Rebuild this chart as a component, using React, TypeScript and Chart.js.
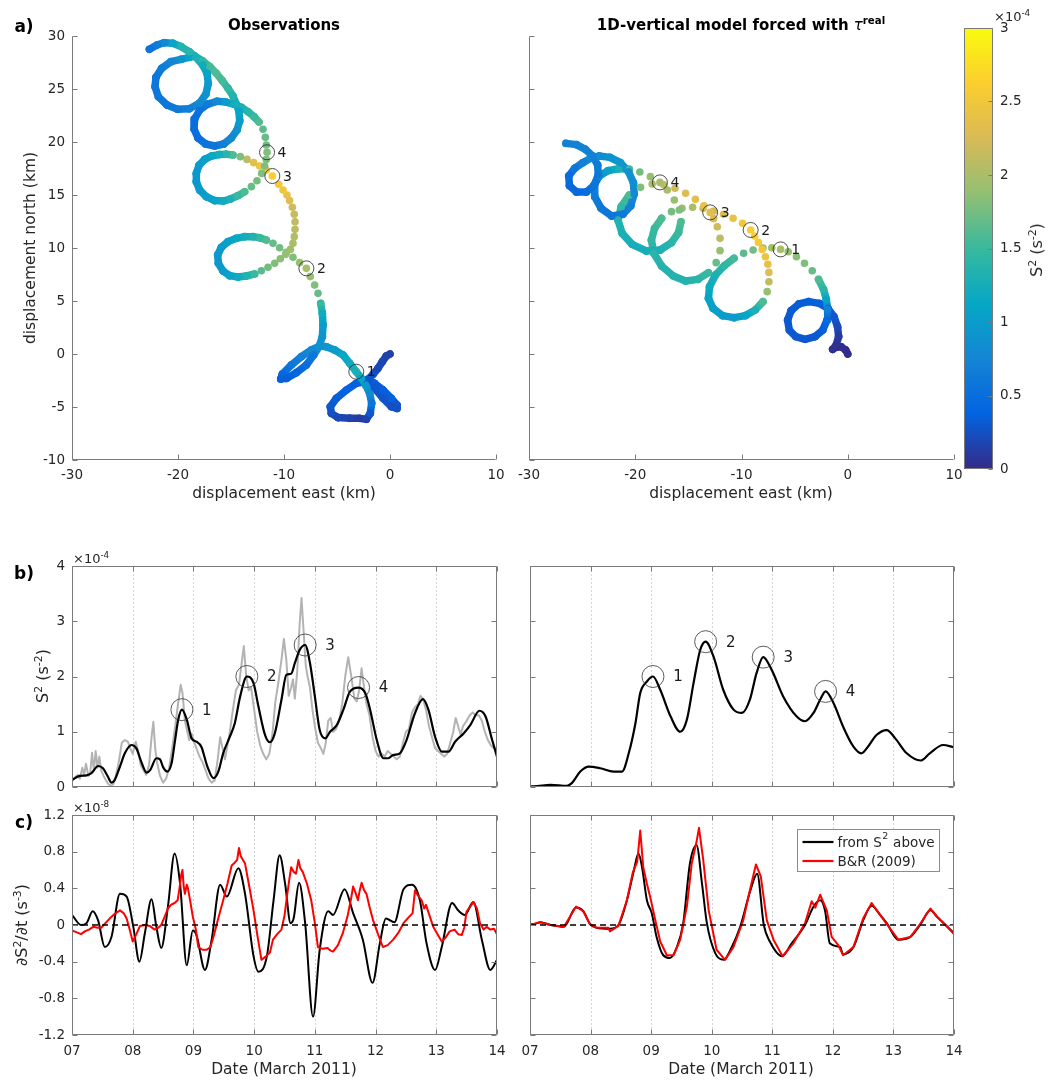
import React, { useEffect, useRef } from "react";
import { Chart, registerables } from "chart.js";

Chart.register(...registerables);

const FONT = "'DejaVu Sans', 'Liberation Sans', sans-serif";
Chart.defaults.font.family = FONT;
Chart.defaults.font.size = 13.5;
Chart.defaults.color = "#262626";

// ---------------- DATA ----------------
// a) Observations trajectory (km) and S^2 (x1e-4 s^-2)
const obsX = [0.0, -0.35, -0.72, -1.13, -1.6, -2.08, -1.45, -0.66, 0.13, 0.66, 0.66, 0.13, -0.66, -1.45, -2.23, -3.18, -4.12, -5.06, -5.63, -5.53, -4.91, -3.8, -2.86, -2.23, -1.86, -1.73, -1.92, -2.3, -2.7, -3.18, -3.8, -4.43, -5.22, -6.0, -6.64, -7.42, -8.36, -9.31, -10.16, -10.31, -9.78, -8.84, -7.89, -7.2, -6.7, -6.38, -6.32, -6.38, -6.54, -6.79, -7.11, -7.52, -7.89, -8.52, -9.15, -9.78, -10.41, -11.04, -11.67, -12.3, -12.92, -13.71, -14.5, -15.28, -15.91, -16.26, -16.19, -15.75, -15.13, -14.34, -13.55, -12.77, -12.14, -11.51, -10.88, -10.35, -9.84, -9.4, -9.15, -9.03, -8.96, -8.96, -9.03, -9.21, -9.47, -9.72, -10.09, -10.5, -11.1, -11.67, -12.3, -12.86, -13.49, -14.12, -14.81, -15.44, -16.13, -16.82, -17.48, -18.02, -18.27, -18.27, -17.96, -17.33, -16.54, -15.75, -15.06, -14.34, -13.71, -13.08, -12.55, -12.11, -11.82, -11.67, -11.6, -11.67, -11.76, -11.98, -12.36, -12.83, -13.4, -14.02, -14.75, -15.5, -16.32, -17.17, -17.96, -18.43, -18.49, -18.11, -17.39, -16.54, -15.69, -14.97, -14.43, -14.18, -14.25, -14.5, -14.81, -15.28, -15.82, -16.38, -17.0, -17.7, -18.43, -18.93, -19.72, -20.66, -21.54, -22.08, -22.17, -21.86, -21.04, -20.03, -18.93, -17.99, -17.36, -17.14, -17.26, -17.67, -18.3, -18.93, -19.72, -20.5, -21.29, -21.98, -22.7];
const obsY = [0.0, -0.19, -0.72, -1.35, -1.92, -2.39, -2.77, -3.4, -4.18, -4.81, -5.13, -4.97, -4.18, -3.24, -2.61, -2.77, -3.4, -4.18, -4.97, -5.6, -6.0, -6.07, -6.07, -6.16, -5.6, -4.65, -3.71, -2.92, -2.3, -1.67, -0.88, -0.09, 0.38, 0.69, 0.75, 0.38, -0.25, -1.04, -1.89, -2.36, -2.3, -1.76, -1.04, -0.09, 0.69, 1.64, 2.74, 3.84, 4.78, 5.72, 6.51, 7.3, 8.08, 8.62, 9.12, 9.59, 10.03, 10.44, 10.75, 10.97, 11.07, 11.07, 10.91, 10.6, 10.06, 9.34, 8.55, 7.83, 7.39, 7.26, 7.36, 7.55, 7.86, 8.18, 8.55, 8.99, 9.4, 9.87, 10.44, 11.07, 11.76, 12.48, 13.18, 13.84, 14.47, 15.0, 15.47, 16.01, 16.79, 17.36, 17.74, 18.05, 18.36, 18.62, 18.77, 18.84, 18.81, 18.68, 18.36, 17.8, 17.04, 16.26, 15.47, 14.84, 14.47, 14.43, 14.62, 14.94, 15.31, 15.79, 16.35, 17.04, 17.74, 18.36, 19.03, 19.72, 20.44, 21.2, 21.89, 22.39, 22.86, 23.27, 23.58, 23.77, 23.84, 23.58, 23.02, 22.17, 21.23, 20.38, 19.81, 19.62, 19.81, 20.38, 21.13, 22.01, 22.89, 23.58, 24.34, 25.06, 25.79, 26.48, 27.11, 27.67, 28.11, 27.99, 27.8, 27.58, 26.95, 26.1, 25.22, 24.28, 23.49, 23.08, 23.14, 23.65, 24.53, 25.53, 26.48, 27.26, 27.99, 28.52, 29.0, 29.31, 29.37, 29.15, 28.74];
const obsS = [0.15, 0.15, 0.18, 0.2, 0.25, 0.3, 0.32, 0.35, 0.35, 0.3, 0.25, 0.25, 0.28, 0.3, 0.3, 0.35, 0.38, 0.35, 0.3, 0.25, 0.2, 0.15, 0.12, 0.15, 0.3, 0.6, 0.8, 0.95, 1.1, 1.3, 1.2, 1.1, 1.0, 0.95, 0.9, 0.8, 0.7, 0.6, 0.45, 0.35, 0.35, 0.4, 0.5, 0.6, 0.9, 0.9, 1.0, 1.2, 1.5, 1.7, 1.8, 1.9, 2.0, 1.9, 1.8, 1.8, 1.75, 1.7, 1.6, 1.5, 1.35, 1.25, 1.15, 1.05, 1.0, 0.95, 0.95, 1.0, 1.1, 1.2, 1.35, 1.5, 1.65, 1.75, 1.8, 1.85, 1.9, 1.95, 2.0, 2.05, 2.1, 2.1, 2.15, 2.2, 2.3, 2.4, 2.5, 2.55, 2.6, 2.55, 2.45, 2.35, 2.1, 1.8, 1.6, 1.4, 1.25, 1.15, 1.05, 1.0, 0.95, 0.95, 1.0, 1.05, 1.1, 1.2, 1.3, 1.5, 1.6, 1.7, 1.75, 1.8, 1.8, 1.8, 1.8, 1.75, 1.7, 1.65, 1.6, 1.5, 1.4, 1.3, 1.2, 1.0, 0.8, 0.65, 0.55, 0.5, 0.5, 0.5, 0.55, 0.6, 0.7, 0.8, 0.9, 1.0, 1.1, 1.25, 1.35, 1.45, 1.55, 1.6, 1.55, 1.45, 1.3, 1.1, 0.9, 0.75, 0.65, 0.6, 0.6, 0.6, 0.6, 0.62, 0.7, 0.8, 0.9, 1.0, 1.1, 1.2, 1.3, 1.4, 1.35, 1.1, 0.8, 0.65, 0.55];
const obsPeakX = [-3.18, -7.89, -11.1, -11.6];
const obsPeakY = [-1.67, 8.08, 16.79, 19.03];

// a) 1D-vertical model trajectory
const modX = [0, -0.2, -0.63, -1.09, -1.42, -1.09, -0.86, -0.96, -1.29, -1.85, -2.68, -3.68, -4.6, -5.33, -5.66, -5.5, -4.9, -4.01, -3.08, -2.35, -1.95, -1.89, -2.02, -2.28, -2.75, -3.34, -4.07, -4.83, -5.6, -6.32, -7.15, -7.98, -8.91, -9.8, -10.7, -11.62, -12.45, -13.01, -13.11, -12.68, -11.79, -10.7, -9.64, -8.71, -7.98, -7.58, -7.42, -7.42, -7.52, -7.75, -8.05, -8.41, -8.77, -9.14, -9.9, -10.79, -11.69, -12.62, -13.61, -14.6, -15.6, -16.59, -17.52, -18.18, -18.48, -18.25, -17.52, -16.42, -15.26, -14.11, -13.11, -12.38, -12.02, -12.02, -12.28, -12.62, -12.95, -13.54, -14.34, -15.26, -16.26, -17.32, -18.41, -19.5, -20.56, -21.32, -21.62, -21.23, -20.3, -18.97, -17.65, -16.59, -15.93, -15.7, -15.86, -16.32, -16.99, -17.68, -18.58, -19.57, -20.56, -21.56, -22.55, -23.38, -23.87, -23.81, -23.21, -22.22, -21.16, -20.43, -20.1, -20.17, -20.63, -21.39, -22.38, -23.38, -24.21, -24.93, -25.7, -26.26, -26.19, -25.53, -24.6, -23.87, -23.48, -23.54, -24.01, -24.7, -25.53, -26.52];
const modY = [0, 0.38, 0.69, 0.63, 0.44, 0.85, 1.64, 2.58, 3.52, 4.28, 4.78, 4.94, 4.72, 4.09, 3.21, 2.26, 1.64, 1.38, 1.64, 2.26, 3.21, 4.21, 5.16, 6.1, 7.04, 7.86, 8.55, 9.18, 9.65, 9.87, 10.03, 10.0, 9.81, 9.5, 9.03, 8.33, 7.45, 6.35, 5.25, 4.31, 3.62, 3.43, 3.62, 4.15, 4.94, 5.88, 6.82, 7.7, 8.46, 9.18, 9.87, 10.53, 11.13, 11.7, 12.33, 12.8, 13.18, 13.49, 13.74, 13.84, 13.74, 13.43, 12.8, 11.86, 10.75, 9.5, 8.3, 7.36, 6.89, 7.04, 7.67, 8.62, 9.75, 10.91, 12.01, 12.77, 13.36, 13.99, 14.59, 15.16, 15.63, 15.97, 16.04, 15.72, 15.0, 13.9, 12.64, 11.38, 10.35, 9.72, 9.81, 10.5, 11.45, 12.48, 13.58, 14.53, 15.47, 16.19, 16.73, 17.17, 17.42, 17.48, 17.3, 16.79, 15.94, 14.84, 13.74, 13.02, 13.18, 13.96, 15.09, 16.16, 17.2, 18.05, 18.55, 18.68, 18.46, 18.05, 17.52, 16.79, 15.88, 15.28, 15.28, 15.91, 16.89, 17.83, 18.68, 19.31, 19.75, 19.87];
const modS = [0.02, 0.02, 0.03, 0.03, 0.04, 0.05, 0.1, 0.2, 0.3, 0.35, 0.35, 0.35, 0.33, 0.32, 0.3, 0.3, 0.3, 0.3, 0.3, 0.35, 0.45, 0.7, 1.1, 1.4, 1.6, 1.7, 1.8, 1.85, 1.9, 2.0, 1.95, 1.85, 1.75, 1.65, 1.55, 1.45, 1.3, 1.2, 1.1, 1.05, 1.0, 1.0, 1.1, 1.3, 1.6, 1.9, 2.1, 2.3, 2.4, 2.45, 2.5, 2.55, 2.6, 2.6, 2.5, 2.4, 2.3, 2.2, 2.1, 2.0, 1.9, 1.75, 1.6, 1.5, 1.45, 1.4, 1.35, 1.35, 1.35, 1.4, 1.5, 1.7, 1.9, 2.1, 2.2, 2.3, 2.35, 2.4, 2.35, 2.3, 2.2, 2.1, 2.0, 1.8, 1.6, 1.45, 1.35, 1.3, 1.25, 1.25, 1.3, 1.4, 1.5, 1.6, 1.8, 1.9, 2.0, 2.0, 1.9, 1.75, 1.55, 1.3, 1.05, 0.9, 0.75, 0.65, 0.6, 0.6, 0.62, 0.7, 0.8, 0.85, 0.9, 0.95, 0.9, 0.85, 0.8, 0.7, 0.6, 0.5, 0.45, 0.45, 0.5, 0.55, 0.6, 0.65, 0.7, 0.72, 0.72, 0.7];
const modPeakX = [-6.32, -9.14, -12.95, -17.68];
const modPeakY = [9.87, 11.7, 13.36, 16.19];
const peakNames = ["1", "2", "3", "4"];

// tick values
const dispXTicks = [-30, -20, -10, 0, 10];
const dispYTicks = [-10, -5, 0, 5, 10, 15, 20, 25, 30];
const cbTicks = [0, 0.5, 1, 1.5, 2, 2.5, 3];
const dayTicks = [7, 8, 9, 10, 11, 12, 13, 14];
const s2Ticks = [0, 1, 2, 3, 4];
const dsTicks = [-1.2, -0.8, -0.4, 0, 0.4, 0.8, 1.2];

// b) S^2 time series (x1e-4 s^-2), day of March 2011
const obsSmoothDay = [7.0, 7.13, 7.24, 7.32, 7.43, 7.51, 7.59, 7.65, 7.7, 7.79, 7.87, 7.98, 8.06, 8.14, 8.23, 8.29, 8.39, 8.45, 8.5, 8.57, 8.64, 8.69, 8.75, 8.81, 8.89, 8.97, 9.05, 9.13, 9.23, 9.33, 9.41, 9.49, 9.6, 9.68, 9.77, 9.88, 9.99, 10.07, 10.18, 10.26, 10.34, 10.45, 10.53, 10.61, 10.67, 10.75, 10.84, 10.92, 11.0, 11.08, 11.17, 11.25, 11.36, 11.47, 11.58, 11.72, 11.83, 11.91, 12.02, 12.13, 12.21, 12.29, 12.4, 12.51, 12.65, 12.78, 12.87, 12.98, 13.09, 13.2, 13.31, 13.45, 13.56, 13.71, 13.81, 13.92, 14.0];
const obsSmoothS2 = [0.13, 0.2, 0.21, 0.25, 0.38, 0.34, 0.19, 0.08, 0.12, 0.37, 0.61, 0.76, 0.7, 0.46, 0.26, 0.31, 0.52, 0.5, 0.36, 0.28, 0.43, 0.79, 1.22, 1.4, 1.22, 0.88, 0.82, 0.73, 0.37, 0.16, 0.28, 0.61, 0.91, 1.15, 1.64, 2.0, 1.88, 1.46, 0.94, 0.81, 0.97, 1.58, 2.03, 2.05, 2.24, 2.48, 2.57, 2.24, 1.64, 1.03, 0.88, 1.0, 1.12, 1.4, 1.73, 1.8, 1.7, 1.4, 0.85, 0.52, 0.52, 0.58, 0.61, 0.85, 1.34, 1.59, 1.4, 0.91, 0.64, 0.64, 0.82, 0.97, 1.12, 1.38, 1.28, 0.85, 0.55];
const obsRawDay = [7.0, 7.05, 7.1, 7.13, 7.17, 7.2, 7.23, 7.27, 7.3, 7.33, 7.36, 7.39, 7.42, 7.45, 7.48, 7.52, 7.56, 7.6, 7.64, 7.68, 7.72, 7.77, 7.82, 7.87, 7.92, 7.96, 8.0, 8.05, 8.09, 8.13, 8.18, 8.22, 8.27, 8.31, 8.34, 8.37, 8.4, 8.45, 8.5, 8.55, 8.6, 8.65, 8.7, 8.74, 8.79, 8.82, 8.86, 8.9, 8.93, 8.97, 9.0, 9.05, 9.1, 9.15, 9.2, 9.25, 9.3, 9.35, 9.4, 9.44, 9.48, 9.52, 9.56, 9.6, 9.65, 9.7, 9.75, 9.79, 9.83, 9.87, 9.91, 9.95, 10.0, 10.05, 10.1, 10.15, 10.2, 10.25, 10.3, 10.35, 10.4, 10.45, 10.49, 10.53, 10.57, 10.61, 10.64, 10.67, 10.71, 10.75, 10.78, 10.81, 10.85, 10.88, 10.92, 10.96, 11.0, 11.05, 11.1, 11.14, 11.18, 11.22, 11.26, 11.3, 11.35, 11.4, 11.45, 11.5, 11.55, 11.6, 11.65, 11.69, 11.73, 11.77, 11.81, 11.85, 11.9, 11.95, 12.0, 12.05, 12.1, 12.15, 12.2, 12.25, 12.3, 12.35, 12.4, 12.45, 12.5, 12.55, 12.6, 12.65, 12.7, 12.74, 12.78, 12.83, 12.88, 12.93, 12.98, 13.03, 13.08, 13.13, 13.18, 13.23, 13.28, 13.32, 13.36, 13.4, 13.44, 13.5, 13.55, 13.6, 13.65, 13.7, 13.75, 13.8, 13.85, 13.9, 13.95, 14.0];
const obsRawS2 = [0.1, 0.18, 0.22, 0.15, 0.35, 0.22, 0.42, 0.2, 0.25, 0.62, 0.3, 0.65, 0.35, 0.55, 0.3, 0.2, 0.12, 0.05, 0.02, 0.05, 0.2, 0.45, 0.8, 0.85, 0.82, 0.7, 0.6, 0.82, 0.65, 0.4, 0.3, 0.22, 0.4, 0.9, 1.18, 0.7, 0.45, 0.2, 0.08, 0.15, 0.35, 0.7, 1.1, 1.45, 1.85, 1.7, 1.2, 1.0, 0.85, 0.97, 0.85, 0.7, 0.55, 0.45, 0.3, 0.15, 0.08, 0.12, 0.5, 0.9, 0.7, 0.5, 0.75, 1.0, 1.4, 1.75, 1.85, 2.2, 2.55, 2.0, 1.75, 1.8, 1.4, 1.0, 0.75, 0.6, 0.5, 0.6, 0.95, 1.55, 1.9, 2.3, 2.68, 2.3, 1.65, 1.8, 1.95, 1.6, 2.1, 2.95, 3.42, 2.9, 2.2, 2.0, 1.8, 1.4, 1.1, 0.8, 0.7, 0.6, 0.8, 1.2, 1.25, 1.0, 1.05, 1.2, 1.5, 2.0, 2.35, 2.0, 1.6, 1.55, 1.75, 2.15, 1.8, 1.5, 1.3, 0.9, 0.65, 0.55, 0.6, 0.55, 0.65, 0.6, 0.55, 0.5, 0.55, 0.8, 1.0, 1.05, 1.35, 1.45, 1.5, 1.65, 1.6, 1.4, 1.1, 0.9, 0.7, 0.65, 0.6, 0.55, 0.6, 0.8, 1.0, 1.25, 1.1, 0.95, 1.1, 1.2, 1.3, 1.35, 1.3, 1.3, 1.2, 1.0, 0.85, 0.75, 0.7, 0.7];
const obsPeakDay = [8.81, 9.88, 10.84, 11.72];
const obsPeakS2 = [1.4, 2.0, 2.57, 1.8];

const modSmoothDay = [7.0, 7.06, 7.34, 7.61, 7.69, 7.83, 7.97, 8.16, 8.38, 8.52, 8.63, 8.74, 8.82, 8.93, 9.03, 9.15, 9.32, 9.48, 9.59, 9.7, 9.81, 9.9, 10.03, 10.19, 10.36, 10.5, 10.63, 10.74, 10.85, 10.99, 11.18, 11.4, 11.54, 11.68, 11.79, 11.88, 12.01, 12.17, 12.34, 12.47, 12.58, 12.72, 12.89, 13.03, 13.22, 13.45, 13.6, 13.82, 14.0];
const modSmoothS2 = [0.01, 0.01, 0.04, 0.02, 0.07, 0.28, 0.37, 0.34, 0.28, 0.28, 0.61, 1.15, 1.7, 1.91, 2.0, 1.76, 1.28, 1.0, 1.22, 1.88, 2.48, 2.63, 2.36, 1.76, 1.4, 1.34, 1.58, 2.06, 2.35, 2.12, 1.64, 1.28, 1.19, 1.34, 1.58, 1.73, 1.52, 1.09, 0.73, 0.61, 0.73, 0.94, 1.03, 0.88, 0.61, 0.48, 0.61, 0.76, 0.72];
const modPeakDay = [9.03, 9.9, 10.85, 11.88];
const modPeakS2 = [2.0, 2.63, 2.35, 1.73];

// c) dS^2/dt (x1e-8 s^-3)
const cObsDay = [7.0, 7.15, 7.24, 7.34, 7.43, 7.54, 7.65, 7.79, 7.9, 8.01, 8.11, 8.2, 8.31, 8.39, 8.47, 8.58, 8.69, 8.78, 8.89, 8.99, 9.05, 9.19, 9.3, 9.44, 9.55, 9.74, 9.85, 9.99, 10.07, 10.21, 10.32, 10.42, 10.51, 10.6, 10.65, 10.74, 10.84, 10.97, 11.08, 11.22, 11.3, 11.49, 11.63, 11.79, 11.95, 12.07, 12.17, 12.31, 12.46, 12.6, 12.73, 12.84, 12.98, 13.09, 13.26, 13.36, 13.47, 13.61, 13.75, 13.89, 14.0];
const cObsBlack = [0.11, 0.0, 0.02, 0.15, 0.05, -0.24, -0.13, 0.34, 0.31, -0.02, -0.4, -0.09, 0.28, -0.02, -0.25, 0.2, 0.78, 0.45, -0.44, -0.06, -0.11, -0.49, -0.16, 0.44, 0.31, 0.62, 0.34, -0.34, -0.51, -0.34, 0.27, 0.76, 0.45, 0.02, 0.07, 0.46, 0.02, -1.0, -0.27, 0.15, 0.11, 0.39, 0.13, -0.16, -0.63, -0.2, 0.07, 0.03, 0.39, 0.44, 0.27, -0.2, -0.49, -0.24, 0.24, 0.16, 0.11, 0.25, -0.16, -0.49, -0.38];
const cObsRedDay = [7.0, 7.08, 7.15, 7.21, 7.28, 7.35, 7.42, 7.48, 7.55, 7.62, 7.7, 7.79, 7.85, 7.9, 7.95, 8.0, 8.06, 8.12, 8.2, 8.28, 8.36, 8.42, 8.47, 8.52, 8.58, 8.63, 8.69, 8.74, 8.77, 8.8, 8.82, 8.84, 8.86, 8.89, 8.91, 8.95, 8.99, 9.04, 9.08, 9.15, 9.22, 9.28, 9.33, 9.4, 9.49, 9.56, 9.63, 9.68, 9.72, 9.75, 9.78, 9.85, 9.92, 9.99, 10.05, 10.12, 10.2, 10.26, 10.31, 10.38, 10.45, 10.5, 10.54, 10.58, 10.61, 10.65, 10.69, 10.73, 10.76, 10.8, 10.87, 10.94, 11.0, 11.05, 11.13, 11.21, 11.26, 11.3, 11.38, 11.46, 11.54, 11.6, 11.63, 11.67, 11.71, 11.74, 11.77, 11.81, 11.85, 11.9, 11.96, 12.04, 12.12, 12.2, 12.29, 12.38, 12.46, 12.54, 12.61, 12.65, 12.7, 12.76, 12.8, 12.83, 12.9, 12.95, 13.02, 13.09, 13.15, 13.22, 13.3, 13.36, 13.42, 13.46, 13.5, 13.56, 13.61, 13.67, 13.72, 13.78, 13.83, 13.89, 13.95, 14.0];
const cObsRed = [-0.06, -0.08, -0.1, -0.07, -0.05, -0.02, -0.03, -0.03, 0.02, 0.07, 0.12, 0.16, 0.13, 0.07, -0.05, -0.18, -0.1, -0.01, 0.0, -0.01, -0.05, -0.03, 0.0, 0.08, 0.18, 0.22, 0.24, 0.27, 0.4, 0.55, 0.6, 0.42, 0.34, 0.44, 0.4, 0.25, 0.09, -0.05, -0.24, -0.27, -0.27, -0.24, -0.13, 0.05, 0.27, 0.45, 0.65, 0.68, 0.71, 0.84, 0.75, 0.67, 0.42, 0.16, -0.1, -0.38, -0.34, -0.3, -0.16, -0.1, -0.05, 0.1, 0.31, 0.5, 0.63, 0.58, 0.56, 0.71, 0.62, 0.58, 0.45, 0.27, 0.02, -0.24, -0.26, -0.25, -0.28, -0.29, -0.22, -0.09, 0.1, 0.3, 0.42, 0.35, 0.27, 0.38, 0.46, 0.38, 0.34, 0.2, 0.05, -0.1, -0.24, -0.22, -0.16, -0.08, 0.02, 0.08, 0.13, 0.38, 0.32, 0.27, 0.18, 0.22, 0.08, -0.02, -0.1, -0.18, -0.14, -0.07, -0.05, -0.1, -0.11, -0.03, 0.15, 0.2, 0.25, 0.18, 0.02, -0.05, -0.02, -0.05, -0.04, -0.1];

const cModDay = [7.0, 7.06, 7.17, 7.34, 7.56, 7.76, 7.88, 7.99, 8.1, 8.32, 8.46, 8.6, 8.71, 8.79, 8.85, 8.93, 9.01, 9.09, 9.2, 9.31, 9.42, 9.53, 9.64, 9.75, 9.84, 9.92, 10.06, 10.2, 10.31, 10.47, 10.64, 10.75, 10.86, 10.96, 11.16, 11.32, 11.54, 11.68, 11.79, 11.87, 11.95, 12.12, 12.17, 12.34, 12.5, 12.64, 12.78, 12.89, 13.08, 13.28, 13.44, 13.61, 13.72, 13.86, 14.0];
const cModBlack = [0.01, 0.01, 0.03, 0.0, -0.02, 0.19, 0.15, 0.01, -0.03, -0.04, 0.0, 0.27, 0.58, 0.78, 0.63, 0.27, 0.13, -0.13, -0.33, -0.36, -0.25, 0.02, 0.67, 0.87, 0.45, 0.02, -0.31, -0.38, -0.27, -0.02, 0.38, 0.56, 0.0, -0.18, -0.34, -0.2, 0.0, 0.2, 0.27, 0.16, -0.2, -0.24, -0.32, -0.24, 0.05, 0.21, 0.11, 0.02, -0.16, -0.13, 0.0, 0.16, 0.09, 0.0, -0.09];
const cModRedDay = [7.0, 7.06, 7.17, 7.34, 7.56, 7.76, 7.88, 7.99, 8.1, 8.29, 8.32, 8.46, 8.6, 8.7, 8.77, 8.82, 8.87, 8.93, 8.99, 9.07, 9.15, 9.26, 9.37, 9.48, 9.59, 9.67, 9.75, 9.79, 9.86, 9.95, 10.08, 10.22, 10.36, 10.52, 10.63, 10.73, 10.81, 10.91, 11.02, 11.17, 11.35, 11.54, 11.65, 11.71, 11.79, 11.9, 11.98, 12.09, 12.17, 12.34, 12.5, 12.64, 12.78, 12.89, 13.08, 13.28, 13.44, 13.61, 13.72, 13.86, 14.0];
const cModRed = [0.01, 0.01, 0.03, 0.0, -0.02, 0.2, 0.15, 0.01, -0.03, -0.03, -0.07, -0.01, 0.27, 0.58, 0.69, 1.03, 0.63, 0.45, 0.29, 0.05, -0.18, -0.33, -0.33, -0.16, 0.2, 0.67, 0.91, 1.06, 0.71, 0.16, -0.27, -0.38, -0.24, 0.05, 0.38, 0.66, 0.53, 0.05, -0.16, -0.34, -0.2, 0.02, 0.26, 0.19, 0.33, 0.16, -0.13, -0.22, -0.33, -0.24, 0.07, 0.24, 0.11, 0.01, -0.16, -0.13, 0.01, 0.18, 0.09, 0.0, -0.1];
const zeroDay = [7, 14];
const zeroVal = [0, 0];

// ---------------- HELPERS ----------------
const PARULA = ["#352a87", "#0363e1", "#1485d4", "#06a7c6", "#38b99e", "#92bf73", "#d9ba56", "#fcce2e", "#f9fb0e"];
const hexRgb = (h: string) => [parseInt(h.slice(1, 3), 16), parseInt(h.slice(3, 5), 16), parseInt(h.slice(5, 7), 16)];
function parula(t: number) {
  const u = Math.max(0, Math.min(1, t));
  const f = u * (PARULA.length - 1);
  const i = Math.min(Math.floor(f), PARULA.length - 2);
  const w = f - i;
  const a = hexRgb(PARULA[i]);
  const b = hexRgb(PARULA[i + 1]);
  const c = a.map((v, k) => Math.round(v + (b[k] - v) * w));
  return `rgb(${c[0]},${c[1]},${c[2]})`;
}
const CB_MAX = 3;
const xy = (xs: number[], ys: number[]) => xs.map((x, i) => ({ x, y: ys[i] }));
const fmt1 = (v: any) => String(Math.round(Number(v) * 10) / 10);
const fmtDay = (v: any) => String(Math.round(Number(v))).padStart(2, "0");

const AXIS_COLOR = "#7a7a7a";

const matlabAxes: any = {
  id: "matlabAxes",
  beforeDatasetsDraw(chart: any, _a: any, o: any) {
    if (!o || !o.grid) return;
    const { ctx, chartArea: a } = chart;
    const xs = chart.scales.x;
    ctx.save();
    ctx.strokeStyle = "#d6d6d6";
    ctx.lineWidth = 1;
    ctx.setLineDash([2, 2]);
    for (const t of xs.ticks) {
      const px = Math.round(xs.getPixelForValue(t.value)) + 0.5;
      if (px < a.left + 2 || px > a.right - 2) continue;
      ctx.beginPath();
      ctx.moveTo(px, a.top);
      ctx.lineTo(px, a.bottom);
      ctx.stroke();
    }
    ctx.restore();
  },
  afterDraw(chart: any, _a: any, o: any) {
    if (!o || !o.on) return;
    const { ctx, chartArea: a } = chart;
    const L = Math.round(a.left) + 0.5, R = Math.round(a.right) - 0.5;
    const T = Math.round(a.top) + 0.5, B = Math.round(a.bottom) - 0.5;
    const len = o.len || 5;
    ctx.save();
    ctx.strokeStyle = AXIS_COLOR;
    ctx.lineWidth = 1;
    ctx.setLineDash([]);
    ctx.beginPath();
    if (o.box) {
      ctx.rect(L, T, R - L, B - T);
    } else {
      ctx.moveTo(L, T);
      ctx.lineTo(L, B);
      ctx.lineTo(R, B);
    }
    const xs = chart.scales.x, ys = chart.scales.y;
    if (o.xTicks && xs) {
      for (const t of xs.ticks) {
        const px = Math.round(xs.getPixelForValue(t.value)) + 0.5;
        ctx.moveTo(px, B);
        ctx.lineTo(px, B - len);
        if (o.box) {
          ctx.moveTo(px, T);
          ctx.lineTo(px, T + len);
        }
      }
    }
    if (o.yTicks && ys) {
      for (const t of ys.ticks) {
        const py = Math.round(ys.getPixelForValue(t.value)) + 0.5;
        if (o.yLeft !== false) {
          ctx.moveTo(L, py);
          ctx.lineTo(L + len, py);
        }
        if (o.box && o.yRight !== false) {
          ctx.moveTo(R, py);
          ctx.lineTo(R - len, py);
        }
      }
    }
    ctx.stroke();
    ctx.restore();
  },
};

const peakLabelPlugin: any = {
  id: "peakLabelPlugin",
  afterDatasetsDraw(chart: any) {
    const { ctx } = chart;
    chart.data.datasets.forEach((ds: any, i: number) => {
      if (!ds.peakLabels) return;
      const meta = chart.getDatasetMeta(i);
      ctx.save();
      ctx.font = `${ds.labelSize || 14}px ${FONT}`;
      ctx.fillStyle = "#1a1a1a";
      ctx.textAlign = "center";
      ctx.textBaseline = "middle";
      meta.data.forEach((el: any, j: number) => {
        ctx.fillText(ds.peakLabels[j], el.x + ds.labelOffset, el.y + 1);
      });
      ctx.restore();
    });
  },
};

const boxLegend: any = {
  id: "boxLegend",
  afterDraw(chart: any, _a: any, o: any) {
    if (!o || !o.items) return;
    const { ctx, chartArea: a } = chart;
    const x0 = Math.round(a.right - o.right - o.w) + 0.5;
    const y0 = Math.round(a.top + o.top) + 0.5;
    ctx.save();
    ctx.fillStyle = "#ffffff";
    ctx.fillRect(x0, y0, o.w, o.h);
    ctx.strokeStyle = "#8c8c8c";
    ctx.lineWidth = 1;
    ctx.strokeRect(x0, y0, o.w, o.h);
    o.items.forEach((it: any, k: number) => {
      const yy = y0 + o.rows[k];
      ctx.strokeStyle = it.color;
      ctx.lineWidth = 2.2;
      ctx.beginPath();
      ctx.moveTo(x0 + 5, yy);
      ctx.lineTo(x0 + 36, yy);
      ctx.stroke();
      ctx.fillStyle = "#262626";
      ctx.textBaseline = "middle";
      ctx.textAlign = "left";
      const parts = String(it.text).split("²");
      let x = x0 + 40;
      parts.forEach((p: string, pi: number) => {
        ctx.font = `13.5px ${FONT}`;
        ctx.fillText(p, x, yy + 1);
        x += ctx.measureText(p).width;
        if (pi < parts.length - 1) {
          ctx.font = `9.5px ${FONT}`;
          ctx.fillText("2", x + 0.5, yy - 5);
          x += ctx.measureText("2").width + 1;
        }
      });
    });
    ctx.restore();
  },
};

function linScale(min: number, max: number, ticks: number[], opts: any) {
  return {
    type: "linear",
    position: opts.position,
    min,
    max,
    afterBuildTicks: (s: any) => {
      s.ticks = ticks.map((v) => ({ value: v }));
    },
    afterFit: (s: any) => {
      if (opts.horizontal) s.height = opts.size;
      else s.width = opts.size;
    },
    grid: { display: false, drawTicks: false },
    border: { display: false },
    ticks: {
      display: opts.show,
      padding: opts.pad,
      autoSkip: false,
      maxRotation: 0,
      color: "#262626",
      font: { size: 13.5, family: FONT },
      callback: opts.fmt,
    },
  };
}

function baseOptions(layoutPad: any, scales: any, plugins: any) {
  return {
    responsive: false,
    maintainAspectRatio: false,
    animation: false,
    devicePixelRatio: 1,
    events: [],
    layout: { padding: layoutPad },
    scales,
    plugins: { legend: { display: false }, tooltip: { enabled: false }, ...plugins },
  };
}

function trajConfig(pad: any, X: number[], Y: number[], S: number[], pkX: number[], pkY: number[], showY: boolean) {
  const pts = xy(X, Y);
  return {
    type: "scatter",
    data: {
      datasets: [
        {
          data: xy(pkX, pkY),
          pointRadius: 7.5,
          pointBackgroundColor: "rgba(0,0,0,0)",
          pointBorderColor: "#222",
          pointBorderWidth: 0.8,
          showLine: false,
          peakLabels: peakNames,
          labelOffset: 15,
          labelSize: 14,
        },
        {
          data: pts,
          pointRadius: 3.8,
          pointBackgroundColor: S.map((s) => parula(s / CB_MAX)),
          pointBorderWidth: 0,
          showLine: false,
        },
        {
          data: pts,
          pointRadius: 0,
          showLine: true,
          borderWidth: 7.5,
          borderCapStyle: "round",
          borderJoinStyle: "round",
          borderColor: "rgba(0,0,0,0)",
          segment: {
            borderColor: (c: any) => {
              const s0 = S[c.p0DataIndex], s1 = S[c.p1DataIndex];
              return s0 < 1.62 && s1 < 1.62 ? parula((s0 + s1) / 2 / CB_MAX) : "rgba(0,0,0,0)";
            },
          },
        },
      ],
    },
    options: baseOptions(
      { left: 0, right: pad.r, top: pad.t, bottom: 0 },
      {
        x: linScale(-30, 10, dispXTicks, { horizontal: true, show: true, pad: 7, size: pad.b, fmt: (v: any) => String(v), position: "bottom" }),
        y: linScale(-10, 30, dispYTicks, { horizontal: false, show: showY, pad: 7, size: pad.l, fmt: (v: any) => String(v), position: "left" }),
      },
      { matlabAxes: { on: true, box: false, xTicks: true, yTicks: true, len: 5 } }
    ),
    plugins: [matlabAxes, peakLabelPlugin],
  };
}

function s2Config(pad: any, datasets: any[], showY: boolean) {
  return {
    type: "line",
    data: { datasets },
    options: baseOptions(
      { left: 0, right: pad.r, top: pad.t, bottom: 0 },
      {
        x: linScale(7, 14, dayTicks, { horizontal: true, show: false, pad: 8, size: pad.b, fmt: fmtDay, position: "bottom" }),
        y: linScale(0, 4, s2Ticks, { horizontal: false, show: showY, pad: 7, size: pad.l, fmt: fmt1, position: "left" }),
      },
      { matlabAxes: { on: true, box: true, grid: true, xTicks: true, yTicks: true, len: 5 } }
    ),
    plugins: [matlabAxes, peakLabelPlugin],
  };
}

function dsConfig(pad: any, datasets: any[], showY: boolean, legend: any) {
  return {
    type: "line",
    data: { datasets },
    options: baseOptions(
      { left: 0, right: pad.r, top: pad.t, bottom: 0 },
      {
        x: linScale(7, 14, dayTicks, { horizontal: true, show: true, pad: 8, size: pad.b, fmt: fmtDay, position: "bottom" }),
        y: linScale(-1.2, 1.2, dsTicks, { horizontal: false, show: showY, pad: 7, size: pad.l, fmt: fmt1, position: "left" }),
      },
      { matlabAxes: { on: true, box: true, grid: true, xTicks: true, yTicks: true, len: 5 }, boxLegend: legend || {} }
    ),
    plugins: [matlabAxes, boxLegend],
  };
}

function peakDs(days: number[], vals: number[], offset: number) {
  return {
    data: xy(days, vals),
    showLine: false,
    pointRadius: 11,
    pointBackgroundColor: "rgba(0,0,0,0)",
    pointBorderColor: "#333",
    pointBorderWidth: 0.8,
    peakLabels: peakNames,
    labelOffset: offset,
    labelSize: 15,
  };
}

function lineDs(days: number[], vals: number[], color: string, width: number, smooth: boolean, label?: string) {
  return {
    label,
    data: xy(days, vals),
    borderColor: color,
    borderWidth: width,
    pointRadius: 0,
    fill: false,
    tension: 0,
    cubicInterpolationMode: smooth ? "monotone" : "default",
    borderJoinStyle: "round",
  };
}

function colorbarConfig(pad: any) {
  return {
    type: "bar",
    data: {
      labels: ["S2"],
      datasets: [
        {
          data: [CB_MAX],
          barPercentage: 1,
          categoryPercentage: 1,
          borderWidth: 0,
          inflateAmount: 0,
          backgroundColor: (c: any) => {
            const ch = c.chart;
            const a = ch.chartArea;
            if (!a) return "rgba(0,0,0,0)";
            const ys = ch.scales.y;
            const g = ch.ctx.createLinearGradient(0, ys.getPixelForValue(0), 0, ys.getPixelForValue(CB_MAX));
            PARULA.forEach((col, i) => g.addColorStop(i / (PARULA.length - 1), col));
            return g;
          },
        },
      ],
    },
    options: baseOptions(
      { left: pad.l, right: 0, top: pad.t, bottom: pad.b },
      {
        x: { type: "category", display: false, offset: true },
        y: linScale(0, CB_MAX, cbTicks, { horizontal: false, show: true, pad: 7, size: pad.r, fmt: fmt1, position: "right" }),
      },
      { matlabAxes: { on: true, box: true, xTicks: false, yTicks: true, yLeft: false, len: 4 } }
    ),
    plugins: [matlabAxes],
  };
}

function ChartPanel({ rect, pad, make }: any) {
  const ref = useRef<HTMLCanvasElement | null>(null);
  useEffect(() => {
    const chart = new Chart(ref.current as HTMLCanvasElement, make(pad) as any);
    return () => chart.destroy();
  }, []);
  const W = rect.w + pad.l + pad.r;
  const H = rect.h + pad.t + pad.b;
  return (
    <canvas
      ref={ref}
      width={W}
      height={H}
      style={{ position: "absolute", left: rect.x - pad.l, top: rect.y - pad.t, width: W, height: H }}
    />
  );
}

function Label({ x, y, ax = 0.5, ay = 0.5, rot = 0, size = 15.5, bold = false, children }: any) {
  return (
    <div
      style={{
        position: "absolute",
        left: x,
        top: y,
        transform: `translate(${-ax * 100}%, ${-ay * 100}%)` + (rot ? ` rotate(${rot}deg)` : ""),
        fontSize: size,
        fontWeight: bold ? "bold" : "normal",
        whiteSpace: "nowrap",
        lineHeight: 1,
        color: bold ? "#000" : "#262626",
      }}
    >
      {children}
    </div>
  );
}

const supStyle: any = { fontSize: "0.68em", verticalAlign: "0.55em", lineHeight: 0 };

export default function App() {
  const PAD_A_L = { l: 72, r: 24, t: 20, b: 40 };
  const PAD_A_R = { l: 24, r: 24, t: 20, b: 40 };
  const PAD_CB = { l: 4, r: 40, t: 20, b: 20 };
  const PAD_B_L = { l: 72, r: 20, t: 20, b: 20 };
  const PAD_B_R = { l: 24, r: 20, t: 20, b: 20 };
  const PAD_C_L = { l: 72, r: 20, t: 20, b: 36 };
  const PAD_C_R = { l: 24, r: 20, t: 20, b: 36 };

  return (
    <div
      style={{
        position: "absolute",
        left: 0,
        top: 0,
        width: 1053,
        height: 1084,
        background: "#ffffff",
        fontFamily: FONT,
        overflow: "hidden",
      }}
    >
      <ChartPanel rect={{ x: 72, y: 36, w: 424, h: 424 }} pad={PAD_A_L}
        make={(p: any) => trajConfig(p, obsX, obsY, obsS, obsPeakX, obsPeakY, true)} />
      <ChartPanel rect={{ x: 529, y: 36, w: 425, h: 424 }} pad={PAD_A_R}
        make={(p: any) => trajConfig(p, modX, modY, modS, modPeakX, modPeakY, false)} />
      <ChartPanel rect={{ x: 964, y: 28, w: 29, h: 441 }} pad={PAD_CB} make={(p: any) => colorbarConfig(p)} />

      <ChartPanel rect={{ x: 72, y: 566, w: 425, h: 221 }} pad={PAD_B_L}
        make={(p: any) => s2Config(p, [
          peakDs(obsPeakDay, obsPeakS2, 25),
          lineDs(obsSmoothDay, obsSmoothS2, "#000000", 2.2, true),
          lineDs(obsRawDay, obsRawS2, "#b3b3b3", 2, false),
        ], true)} />
      <ChartPanel rect={{ x: 530, y: 566, w: 424, h: 221 }} pad={PAD_B_R}
        make={(p: any) => s2Config(p, [
          peakDs(modPeakDay, modPeakS2, 25),
          lineDs(modSmoothDay, modSmoothS2, "#000000", 2.2, true),
        ], false)} />

      <ChartPanel rect={{ x: 72, y: 815, w: 425, h: 220 }} pad={PAD_C_L}
        make={(p: any) => dsConfig(p, [
          { ...lineDs(zeroDay, zeroVal, "#000000", 1.3, false), borderDash: [6, 4] },
          lineDs(cObsRedDay, cObsRed, "#ff0000", 2, false, "B&R (2009)"),
          lineDs(cObsDay, cObsBlack, "#000000", 2, true, "from S² above"),
        ], true, null)} />
      <ChartPanel rect={{ x: 530, y: 815, w: 424, h: 220 }} pad={PAD_C_R}
        make={(p: any) => dsConfig(p, [
          { ...lineDs(zeroDay, zeroVal, "#000000", 1.3, false), borderDash: [6, 4] },
          lineDs(cModRedDay, cModRed, "#ff0000", 2, false, "B&R (2009)"),
          lineDs(cModDay, cModBlack, "#000000", 2, true, "from S² above"),
        ], false, {
          items: [
            { text: "from S² above", color: "#000000" },
            { text: "B&R (2009)", color: "#ff0000" },
          ],
          w: 142, h: 42, right: 15, top: 14, rows: [12.5, 31.5],
        })} />

      {/* panel labels and titles */}
      <Label x={24} y={26} size={17} bold>a)</Label>
      <Label x={24} y={573} size={17} bold>b)</Label>
      <Label x={24} y={822} size={17} bold>c)</Label>
      <Label x={284} y={25} size={15} bold>Observations</Label>
      <Label x={741} y={25} size={15} bold>
        1D-vertical model forced with <span style={{ fontWeight: "normal", fontStyle: "italic" }}>τ</span>
        <span style={supStyle}>real</span>
      </Label>

      {/* axis titles */}
      <Label x={31} y={248} rot={-90} size={15.5}>displacement north (km)</Label>
      <Label x={284} y={494} size={15.5}>displacement east (km)</Label>
      <Label x={741} y={494} size={15.5}>displacement east (km)</Label>
      <Label x={1037} y={250} rot={-90} size={16}>
        S<span style={supStyle}>2</span> (s<span style={supStyle}>-2</span>)
      </Label>
      <Label x={994} y={16} ax={0} size={13}>
        ×10<span style={supStyle}>-4</span>
      </Label>
      <Label x={73} y={558} ax={0} size={13}>
        ×10<span style={supStyle}>-4</span>
      </Label>
      <Label x={73} y={807} ax={0} size={13}>
        ×10<span style={supStyle}>-8</span>
      </Label>
      <Label x={43} y={676} rot={-90} size={16}>
        S<span style={supStyle}>2</span> (s<span style={supStyle}>-2</span>)
      </Label>
      <Label x={22} y={925} rot={-90} size={16}>
        ∂S<span style={supStyle}>2</span>/∂t (s<span style={supStyle}>-3</span>)
      </Label>
      <Label x={284} y={1070} size={15.5}>Date (March 2011)</Label>
      <Label x={741} y={1070} size={15.5}>Date (March 2011)</Label>
    </div>
  );
}
